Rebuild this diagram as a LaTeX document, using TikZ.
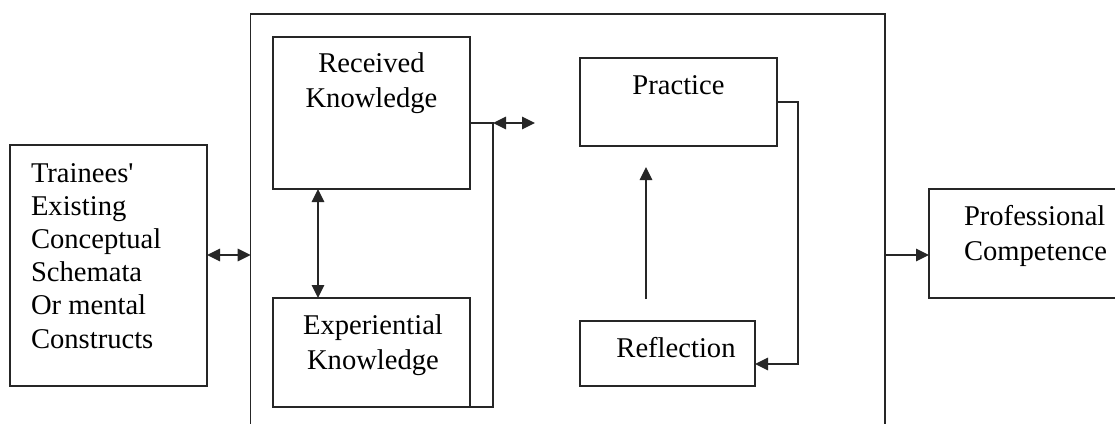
\documentclass[tikz,border=0pt]{standalone}
\usepackage{fontspec}
\setmainfont{Liberation Serif}
\newfontfamily\rawserif{Liberation Serif}
\usetikzlibrary{arrows.meta}
\begin{document}
\begin{tikzpicture}[x=1pt,y=-1pt,
  >={Triangle[length=13pt,width=12.5pt]},
  box/.style={draw=black!85, line width=1.3pt, inner sep=0pt, outer sep=0pt, anchor=north west},
  lbl/.style={font=\fontsize{28.6}{35}\selectfont, inner sep=0pt, outer sep=0pt, align=center, anchor=base},
  conn/.style={line width=1.3pt, draw=black!85}
  ]
\useasboundingbox (0,0) rectangle (1115,423);
\clip (0,0) rectangle (1115,423);
\fill[white] (0,0) rectangle (1115,423);
% boxes
\node[box, minimum width=197pt, minimum height=241pt] (tr) at (10,145) {};
\node[box, minimum width=634.3pt, minimum height=440pt] (outer) at (250.7,14) {};
\node[box, minimum width=197pt, minimum height=152pt] (rk) at (273,37) {};
\node[box, minimum width=197pt, minimum height=109pt] (ek) at (273,298) {};
\node[box, minimum width=197pt, minimum height=88pt] (pr) at (580,58) {};
\node[box, minimum width=175pt, minimum height=65pt] (rf) at (580,321) {};
\node[box, minimum width=194pt, minimum height=109pt] (pc) at (929,189) {};
% texts (base anchor = baseline of last line)
\node[lbl, align=left, anchor=base west, font=\fontsize{28.6}{33.1}\selectfont] (trt) at (31,348) {Trainees{\rawserif'}\\Existing\\Conceptual\\Schemata\\Or mental\\Constructs};
\node[lbl] (rkt) at (371.5,107) {Received\\Knowledge};
\node[lbl] (ekt) at (373,369) {Experiential\\Knowledge};
\node[lbl] (prt) at (678.5,94) {Practice};
\node[lbl] (rft) at (676,357) {Reflection};
\node[lbl, align=left, anchor=base west] (pct) at (964,260) {Professional\\Competence};
% coordinates
\coordinate (jx) at (493,123);
\coordinate (ja) at (535,123);
\coordinate (ra) at (798,102);
\coordinate (up0) at (646,299);
\coordinate (up1) at (646,167);
% connectors
\draw[conn, <->] (tr.east |- 0,255) -- (outer.west |- 0,255);
\draw[conn, <->] (rk.south -| 318,0) -- (ek.north -| 318,0);
\draw[conn] (rk.east |- jx) -- (jx) -- (jx |- ek.south) -- (ek.south east);
\draw[conn, <->] (jx) -- (ja);
\draw[conn, ->] (up0) -- (up1);
\draw[conn, ->] (pr.east |- ra) -- (ra) -- (ra |- 0,364) -- (rf.east |- 0,364);
\draw[conn, ->] (outer.east |- 0,255) -- (pc.west |- 0,255);
\end{tikzpicture}
\end{document}
